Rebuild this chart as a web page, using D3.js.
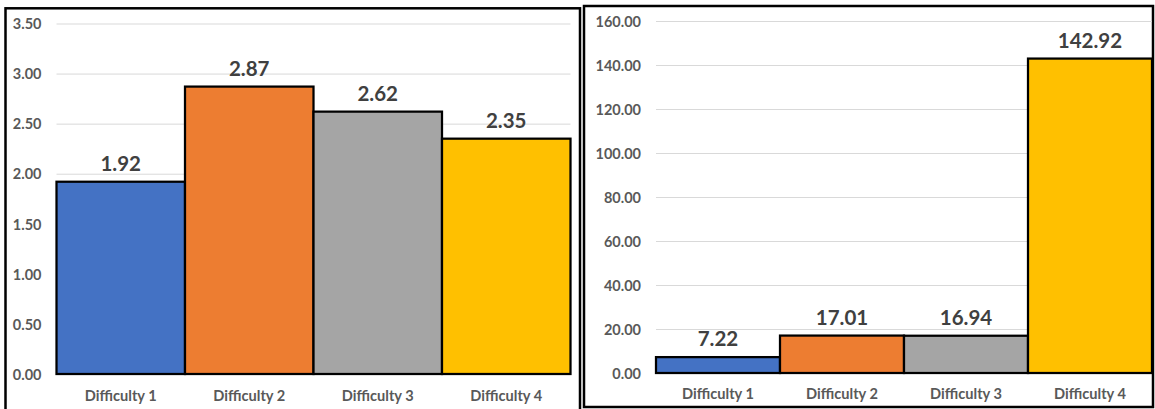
<!DOCTYPE html>
<html>
<head>
<meta charset="utf-8">
<script src="https://cdn.jsdelivr.net/npm/d3@7"></script>
<style>
  html, body { margin: 0; padding: 0; background: #fff; }
  svg { display: block; }
  text { font-family: Lato, "Open Sans", sans-serif; font-weight: 700; }
</style>
</head>
<body>
<svg id="chart" width="1155" height="409"></svg>
<script>
// Categories shared by both panels
const categories = ["Difficulty 1", "Difficulty 2", "Difficulty 3", "Difficulty 4"];
const barColors = ["#4472C4", "#ED7D31", "#A5A5A5", "#FFC000"];

// Left panel values and axis ticks
const leftValues = [1.92, 2.87, 2.62, 2.35];
const leftTicks = [0, 0.5, 1, 1.5, 2, 2.5, 3, 3.5];

// Right panel values and axis ticks
const rightValues = [7.22, 17.01, 16.94, 142.92];
const rightTicks = [0, 20, 40, 60, 80, 100, 120, 140, 160];

const svg = d3.select("#chart");

function drawPanel(cfg) {
  // panel frame
  svg.append("rect")
    .attr("x", cfg.frame[0]).attr("y", cfg.frame[1])
    .attr("width", cfg.frame[2]).attr("height", cfg.frame[3])
    .attr("fill", "#fff").attr("stroke", "#000").attr("stroke-width", 2.5);

  const x = d3.scaleBand().domain(categories)
    .range([cfg.plot.left, cfg.plot.right]).paddingInner(0).paddingOuter(0);
  const y = d3.scaleLinear().domain([0, d3.max(cfg.ticks)])
    .range([cfg.plot.bottom, cfg.plot.top]);

  // value axis with gridlines
  const yAxis = svg.append("g")
    .attr("transform", `translate(${cfg.plot.left},0)`)
    .call(d3.axisLeft(y).tickValues(cfg.ticks).tickFormat(d3.format(".2f"))
      .tickSize(-(cfg.plot.right - cfg.plot.left)).tickPadding(cfg.tickPad));
  yAxis.select(".domain").remove();
  yAxis.selectAll(".tick line").attr("stroke", "#d9d9d9").attr("stroke-width", 1);
  yAxis.selectAll(".tick text")
    .attr("fill", "#595959").style("font-size", "14.5px").attr("dy", "0.36em");

  // bars
  svg.append("g").selectAll("rect")
    .data(cfg.values)
    .join("rect")
    .attr("x", (d, i) => x(categories[i]))
    .attr("y", d => y(d))
    .attr("width", x.bandwidth())
    .attr("height", d => y(0) - y(d))
    .attr("fill", (d, i) => barColors[i])
    .attr("stroke", "#000").attr("stroke-width", 2.25);

  // value labels
  svg.append("g").selectAll("text")
    .data(cfg.values)
    .join("text")
    .attr("x", (d, i) => x(categories[i]) + x.bandwidth() / 2)
    .attr("y", d => y(d) - 11)
    .attr("text-anchor", "middle")
    .attr("fill", "#404040")
    .style("font-size", "20.5px")
    .text(d => d3.format(".2f")(d));

  // category axis
  const xAxis = svg.append("g")
    .attr("transform", `translate(0,${cfg.plot.bottom})`)
    .call(d3.axisBottom(x).tickSize(0).tickPadding(0));
  xAxis.select(".domain").remove();
  xAxis.selectAll(".tick text")
    .attr("fill", "#595959").style("font-size", "14.6px")
    .attr("y", cfg.catOffset).attr("dy", 0);
}

drawPanel({
  frame: [5.5, 8.3, 574.5, 412],
  plot: { left: 56.5, right: 570.5, top: 23.5, bottom: 374 },
  values: leftValues,
  ticks: leftTicks,
  tickPad: 15,
  catOffset: 27
});

drawPanel({
  frame: [584, 6, 1153 - 584, 401],
  plot: { left: 656, right: 1152, top: 21, bottom: 373 },
  values: rightValues,
  ticks: rightTicks,
  tickPad: 15,
  catOffset: 26
});
</script>
</body>
</html>
